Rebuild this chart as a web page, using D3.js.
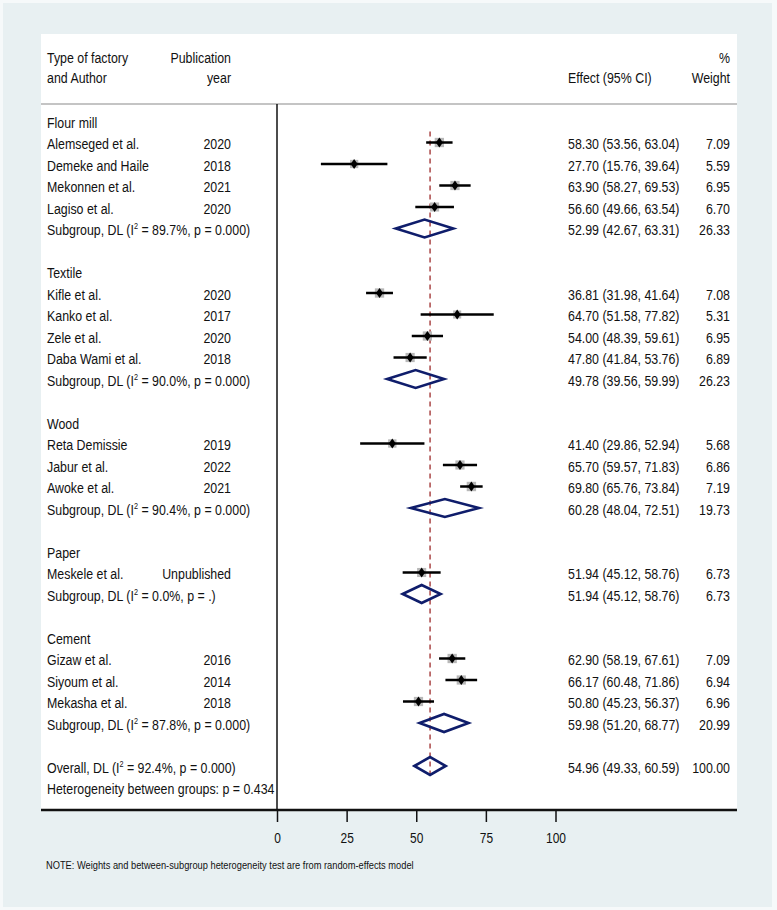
<!DOCTYPE html>
<html>
<head>
<meta charset="utf-8">
<script src="https://cdn.jsdelivr.net/npm/d3@7"></script>
<style>
body { margin: 0; background: #f6f9fa; }
text { font-family: "Liberation Sans", Arial, sans-serif; fill: #111; }
</style>
</head>
<body>
<script>
// study rows
var authors = ["Alemseged et al.", "Demeke and Haile", "Mekonnen et al.", "Lagiso et al.",
    "Kifle et al.", "Kanko et al.", "Zele et al.", "Daba Wami et al.",
    "Reta Demissie", "Jabur et al.", "Awoke et al.",
    "Meskele et al.",
    "Gizaw et al.", "Siyoum et al.", "Mekasha et al."];
var years = ["2020", "2018", "2021", "2020", "2020", "2017", "2020", "2018",
    "2019", "2022", "2021", "Unpublished", "2016", "2014", "2018"];
var studyGroup = [0,0,0,0, 1,1,1,1, 2,2,2, 3, 4,4,4];
var effect = [58.30, 27.70, 63.90, 56.60, 36.81, 64.70, 54.00, 47.80, 41.40, 65.70, 69.80, 51.94, 62.90, 66.17, 50.80];
var lower  = [53.56, 15.76, 58.27, 49.66, 31.98, 51.58, 48.39, 41.84, 29.86, 59.57, 65.76, 45.12, 58.19, 60.48, 45.23];
var upper  = [63.04, 39.64, 69.53, 63.54, 41.64, 77.82, 59.61, 53.76, 52.94, 71.83, 73.84, 58.76, 67.61, 71.86, 56.37];
var weight = [7.09, 5.59, 6.95, 6.70, 7.08, 5.31, 6.95, 6.89, 5.68, 6.86, 7.19, 6.73, 7.09, 6.94, 6.96];

// subgroups
var groups = ["Flour mill", "Textile", "Wood", "Paper", "Cement"];
var subEffect = [52.99, 49.78, 60.28, 51.94, 59.98];
var subLower  = [42.67, 39.56, 48.04, 45.12, 51.20];
var subUpper  = [63.31, 59.99, 72.51, 58.76, 68.77];
var subWeight = [26.33, 26.23, 19.73, 6.73, 20.99];
var subI2 = ["89.7%", "90.0%", "90.4%", "0.0%", "87.8%"];
var subP  = ["0.000", "0.000", "0.000", ".", "0.000"];

// overall
var overall = {es: 54.96, lo: 49.33, hi: 60.59, w: 100.00, i2: "92.4%", p: "0.000"};
var hetP = "0.434";
var xTicks = [0, 25, 50, 75, 100];

var svg = d3.select("body").append("svg")
    .attr("width", 777).attr("height", 910)
    .style("display", "block");

svg.append("rect").attr("x", 3).attr("y", 3).attr("width", 769).attr("height", 904).attr("fill", "#e8f0f2");
svg.append("rect").attr("x", 41).attr("y", 34).attr("width", 696).attr("height", 776).attr("fill", "#fff");

var x = d3.scaleLinear().domain([0, 100]).range([277, 555.5]);
var y = d3.scaleLinear().domain([0, 31]).range([121, 787.5]);

// build row list
var rows = [];
var r = 0;
groups.forEach(function(gname, gi) {
    rows.push({type: "head", row: r++, label: gname});
    studyGroup.forEach(function(g, i) {
        if (g === gi) rows.push({type: "study", row: r++, label: authors[i], year: years[i],
            es: effect[i], lo: lower[i], hi: upper[i], w: weight[i]});
    });
    rows.push({type: "sub", row: r++, label: "Subgroup, DL", i2: subI2[gi], p: subP[gi],
        es: subEffect[gi], lo: subLower[gi], hi: subUpper[gi], w: subWeight[gi]});
    r++;
});
rows.push({type: "sub", row: r++, label: "Overall, DL", i2: overall.i2, p: overall.p,
    es: overall.es, lo: overall.lo, hi: overall.hi, w: overall.w});
rows.push({type: "het", row: r++, label: "Heterogeneity between groups: p = " + hetP});

// the stata text is tall and narrow
var fs = 14.5, sx = 0.855, tx = 47, yearX = 231, effX = 568, wX = 730, base = 6.5;
var fmt = d3.format(".2f");

function label(px, py, anchor, size, scale) {
    return svg.append("text")
        .attr("transform", "translate(" + px + "," + py + ") scale(" + (scale || sx) + ",1)")
        .attr("text-anchor", anchor || "start")
        .style("font-size", (size || fs) + "px");
}

// header
var hdr = [["Type of factory", tx, 62.5, "start"], ["and Author", tx, 83, "start"],
    ["Publication", yearX, 62.5, "end"], ["year", yearX, 83, "end"],
    ["Effect (95% CI)", effX, 83, "start"], ["%", wX, 62.5, "end"], ["Weight", wX, 83, "end"]];
hdr.forEach(function(h) {
    label(h[1], h[2], h[3]).text(h[0]);
});
svg.append("line").attr("x1", 41).attr("x2", 737).attr("y1", 104).attr("y2", 104)
    .attr("stroke", "#c4c4c4").attr("stroke-width", 2);

// vertical null line
svg.append("line").attr("x1", x(0)).attr("x2", x(0)).attr("y1", 104).attr("y2", 810)
    .attr("stroke", "#111").attr("stroke-width", 1.5);

// overall dashed line
svg.append("line").attr("x1", x(overall.es)).attr("x2", x(overall.es))
    .attr("y1", y(1) - 11).attr("y2", y(30) + 9)
    .attr("stroke", "#9e2b2b").attr("stroke-width", 1.3).attr("stroke-dasharray", "5,4");

// left labels and right columns
rows.forEach(function(d) {
    var t = label(tx, y(d.row) + base);
    if (d.type === "sub") {
        t.append("tspan").text(d.label + " (I");
        t.append("tspan").attr("dy", -6).style("font-size", "8.5px").text("2");
        t.append("tspan").attr("dy", 6).text(" = " + d.i2 + ", p = " + d.p + ")");
    } else {
        t.text(d.label);
    }
    if (d.type === "study") {
        label(yearX, y(d.row) + base, "end").text(d.year);
    }
    if (d.type === "study" || d.type === "sub") {
        label(effX, y(d.row) + base).text(fmt(d.es) + " (" + fmt(d.lo) + ", " + fmt(d.hi) + ")");
        label(wX, y(d.row) + base, "end").text(fmt(d.w));
    }
});

// study markers
var studies = rows.filter(function(d) { return d.type === "study"; });
svg.selectAll("rect.box").data(studies).enter().append("rect")
    .attr("class", "box")
    .attr("x", function(d) { return x(d.es) - 1.75 * Math.sqrt(d.w); })
    .attr("y", function(d) { return y(d.row) - 1.75 * Math.sqrt(d.w); })
    .attr("width", function(d) { return 3.5 * Math.sqrt(d.w); })
    .attr("height", function(d) { return 3.5 * Math.sqrt(d.w); })
    .attr("fill", "#b8b8b8");
svg.selectAll("line.ci").data(studies).enter().append("line")
    .attr("x1", function(d) { return x(d.lo); })
    .attr("x2", function(d) { return x(d.hi); })
    .attr("y1", function(d) { return y(d.row); })
    .attr("y2", function(d) { return y(d.row); })
    .attr("stroke", "#000").attr("stroke-width", 2.5);
svg.selectAll("path.pt").data(studies).enter().append("path")
    .attr("d", function(d) {
        var cx = x(d.es), cy = y(d.row);
        return "M" + (cx - 3.5) + "," + cy + "L" + cx + "," + (cy - 5) + "L" + (cx + 3.5) + "," + cy + "L" + cx + "," + (cy + 5) + "Z";
    })
    .attr("fill", "#000");

// pooled diamonds
var pooled = rows.filter(function(d) { return d.type === "sub"; });
svg.selectAll("path.dia").data(pooled).enter().append("path")
    .attr("d", function(d) {
        var cy = y(d.row);
        return "M" + x(d.lo) + "," + cy + "L" + x(d.es) + "," + (cy - 9) + "L" + x(d.hi) + "," + cy + "L" + x(d.es) + "," + (cy + 9) + "Z";
    })
    .attr("fill", "none").attr("stroke", "#0f1d6b").attr("stroke-width", 2.6);

// x axis
var axis = svg.append("g").attr("transform", "translate(0,810)")
    .call(d3.axisBottom(x).tickValues(xTicks).tickSize(12));
axis.select(".domain").remove();
axis.selectAll(".tick line").attr("stroke", "#111").attr("stroke-width", 1.5);
axis.selectAll(".tick text")
    .attr("y", 33).attr("dy", 0)
    .attr("transform", "scale(" + sx + ",1)")
    .style("font-size", "14px")
    .style("font-family", "'Liberation Sans', Arial, sans-serif").attr("fill", "#111");
svg.append("line").attr("x1", 41).attr("x2", 737).attr("y1", 810).attr("y2", 810)
    .attr("stroke", "#111").attr("stroke-width", 2.5);

label(46, 869, "start", 11, 0.845)
    .text("NOTE: Weights and between-subgroup heterogeneity test are from random-effects model");
</script>
</body>
</html>
